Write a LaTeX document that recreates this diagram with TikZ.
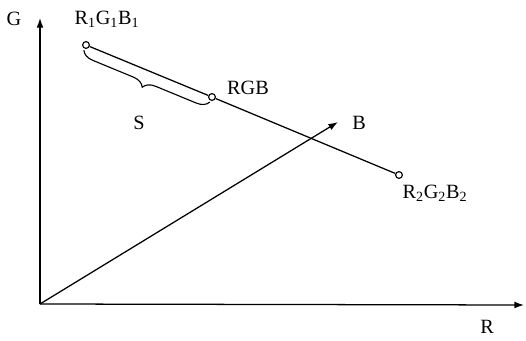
\documentclass[tikz,border=0pt]{standalone}
\usepackage{fontspec}
\setmainfont{Liberation Serif}
\usetikzlibrary{arrows.meta, decorations.pathreplacing}
\tikzset{
  axis/.style = {-{Latex[length=2.4mm, width=1.7mm]}, line width=0.9pt},
  seg/.style  = {line width=0.9pt},
  pt/.style   = {circle, draw, line width=0.8pt, fill=white,
                 inner sep=0pt, minimum size=1.7mm},
  lbl/.style  = {font=\Large, inner sep=1pt},
  brc/.style  = {decorate, line width=0.8pt,
                 decoration={brace, mirror, amplitude=3mm, raise=1.4mm}},
}
\newcommand{\tri}[1]{R\textsubscript{#1}G\textsubscript{#1}B\textsubscript{#1}}

\begin{document}
\begin{tikzpicture}[x=0.025cm, y=-0.025cm]
  \useasboundingbox (0,0) rectangle (526,341);

  %% axes
  \coordinate (o) at (40,304);
  \coordinate (gtip) at (40,18);
  \coordinate (rtip) at (524,305);
  \coordinate (btip) at (338,122);

  %% points on the line
  \node[pt] (p1) at (86,45) {};
  \node[pt] (pm) at (212,97) {};
  \node[pt] (p2) at (399,175) {};

  %% labels
  \node[lbl] (gl) at (14,19) {G};
  \node[lbl] (rl) at (487,327) {R};
  \node[lbl] (bl) at (359,123) {B};
  \node[lbl] (p1l) at (107,19) {\tri{1}};
  \node[lbl] (pml) at (248,88) {RGB};
  \node[lbl] (p2l) at (435,193) {\tri{2}};
  \node[lbl] (sl) at (139,123) {S};

  \draw[axis] (o) -- (gtip);
  \draw[axis] (o) -- (rtip);
  \draw[axis] (o) -- (btip);
  \draw[seg] (p1) -- (pm) -- (p2);
  \draw[brc] (p1.center) -- (pm.center);

\end{tikzpicture}
\end{document}
